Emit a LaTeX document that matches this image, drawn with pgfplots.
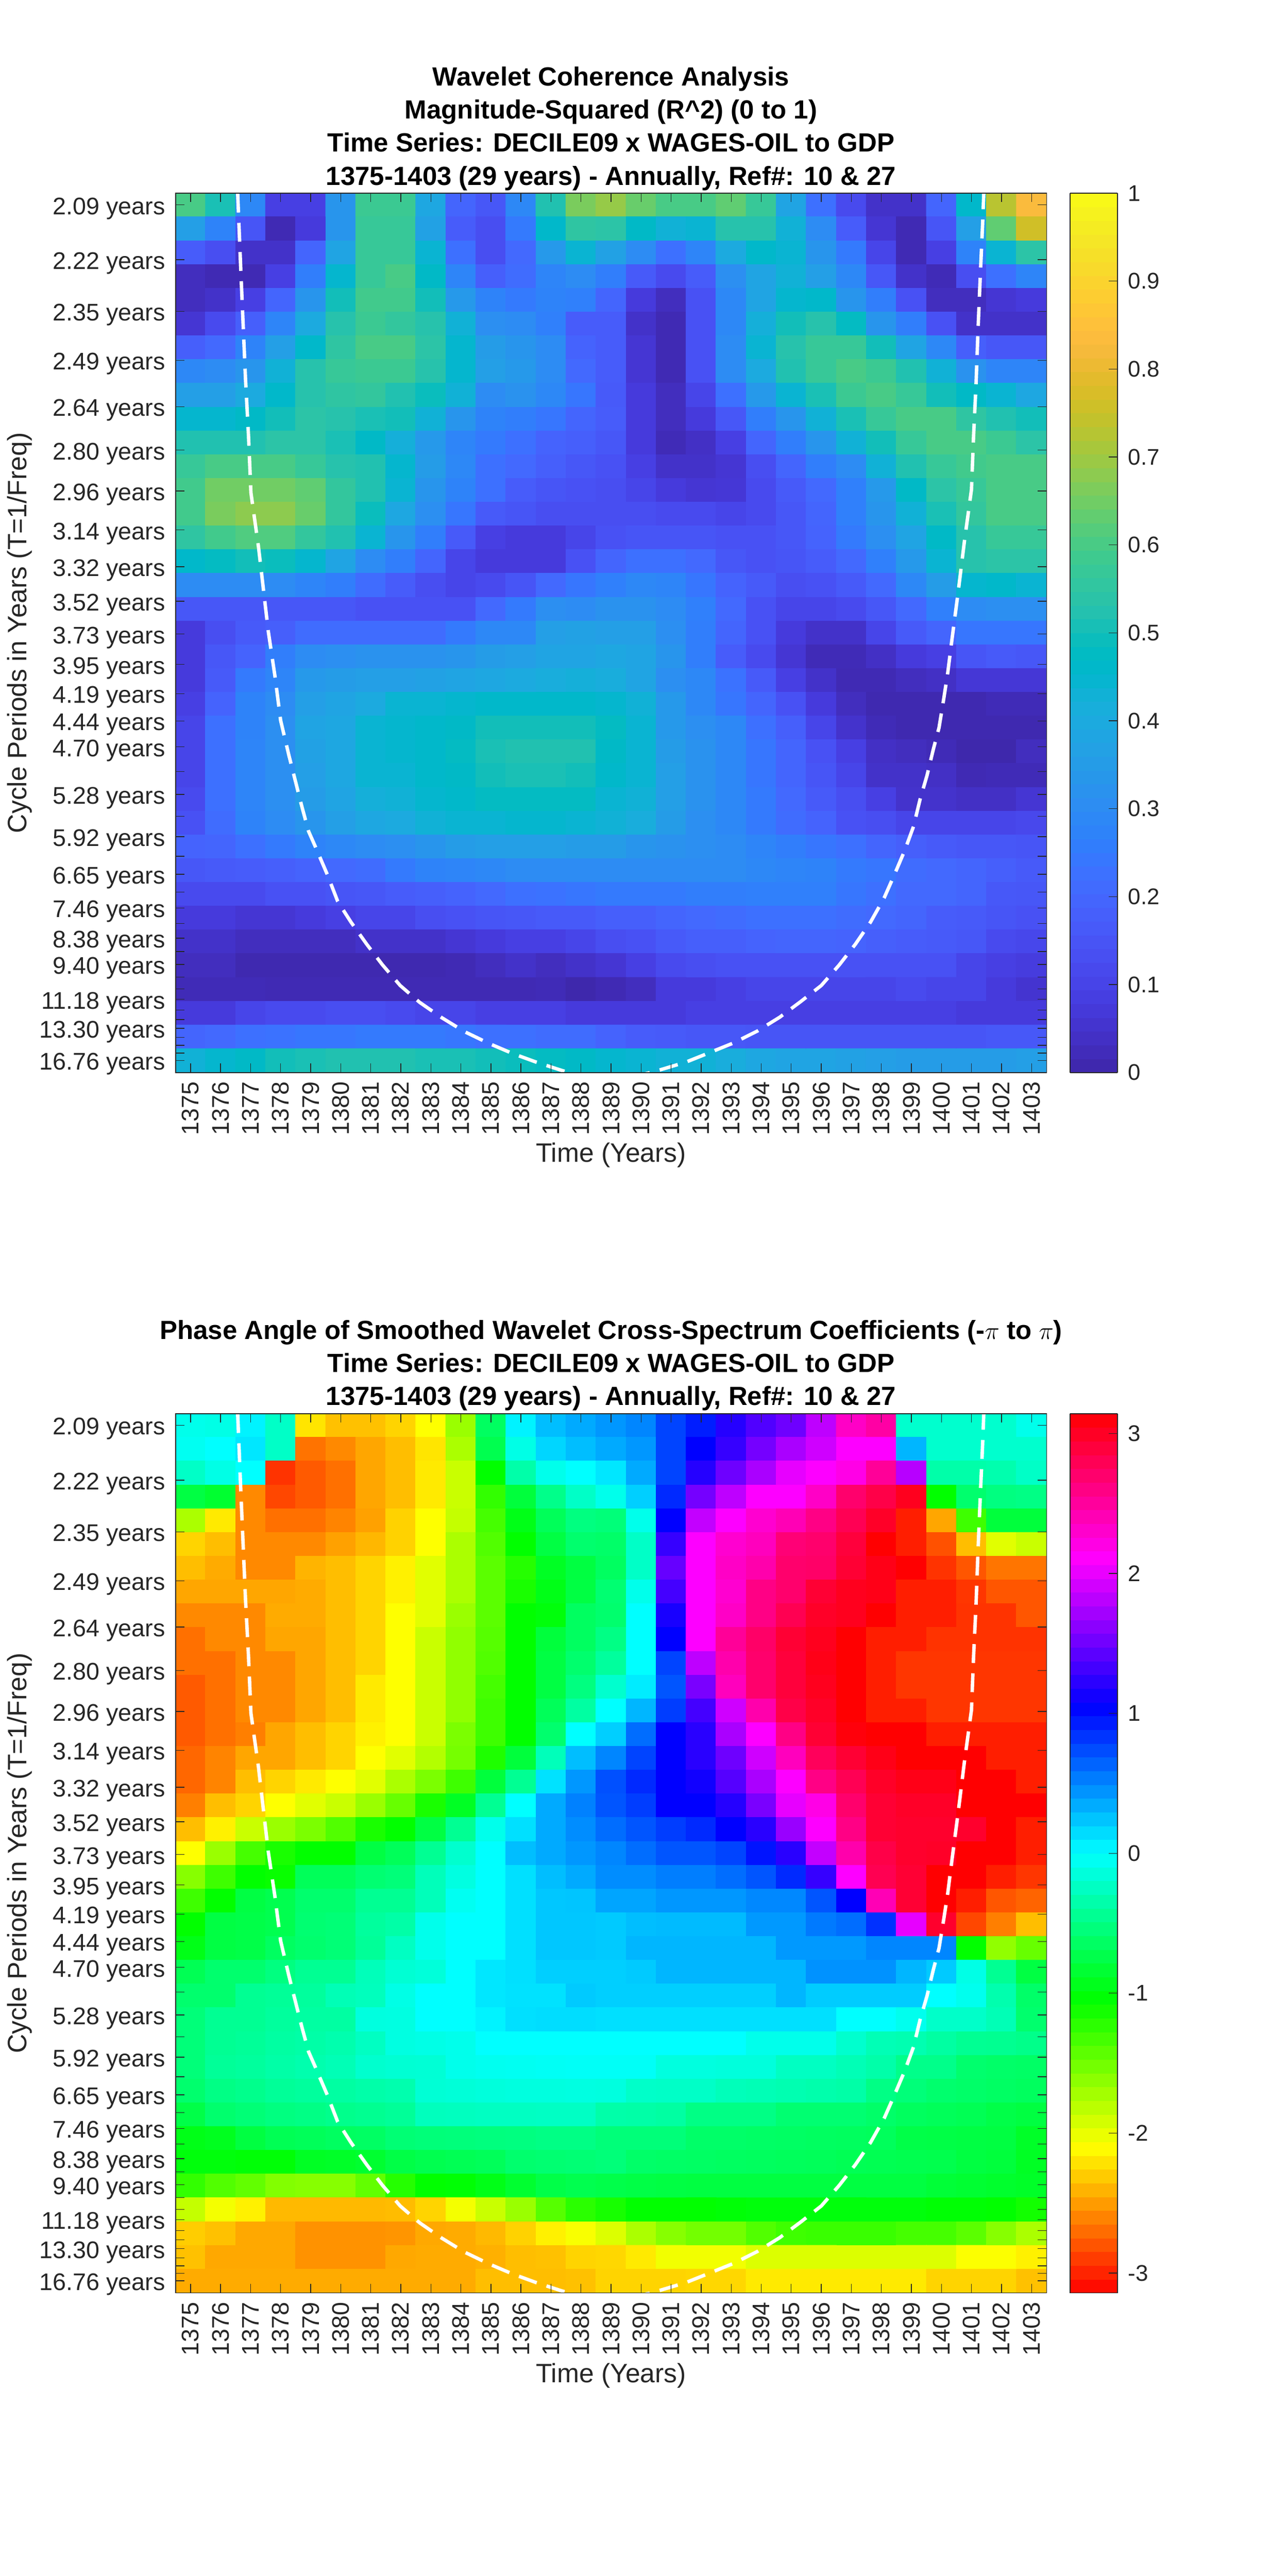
\documentclass[border=0pt]{standalone}
\usepackage{fontspec}
\setmainfont{Liberation Sans}
\usepackage{pgfplots}
\pgfplotsset{compat=1.18}
\definecolor{axc}{gray}{0.15}
\pgfplotsset{
 colormap={parula}{rgb=(.2422,.1504,.6603) rgb=(.2504,.1650,.7076) rgb=(.2578,.1818,.7511) rgb=(.2647,.1978,.7952)
 rgb=(.2706,.2147,.8364) rgb=(.2751,.2342,.8710) rgb=(.2783,.2559,.8991) rgb=(.2803,.2782,.9221)
 rgb=(.2813,.3006,.9414) rgb=(.2810,.3228,.9579) rgb=(.2795,.3447,.9717) rgb=(.2760,.3667,.9829)
 rgb=(.2699,.3892,.9906) rgb=(.2602,.4123,.9952) rgb=(.2440,.4358,.9988) rgb=(.2206,.4603,.9973)
 rgb=(.1963,.4847,.9892) rgb=(.1834,.5074,.9798) rgb=(.1786,.5289,.9682) rgb=(.1764,.5499,.9520)
 rgb=(.1687,.5703,.9359) rgb=(.1540,.5902,.9218) rgb=(.1460,.6091,.9079) rgb=(.1380,.6276,.8973)
 rgb=(.1248,.6459,.8883) rgb=(.1113,.6635,.8763) rgb=(.0952,.6798,.8598) rgb=(.0689,.6948,.8394)
 rgb=(.0297,.7082,.8163) rgb=(.0036,.7203,.7917) rgb=(.0067,.7312,.7660) rgb=(.0433,.7411,.7394)
 rgb=(.0964,.7500,.7120) rgb=(.1408,.7584,.6842) rgb=(.1717,.7670,.6554) rgb=(.1938,.7758,.6251)
 rgb=(.2161,.7843,.5923) rgb=(.2470,.7918,.5567) rgb=(.2906,.7973,.5188) rgb=(.3406,.8008,.4789)
 rgb=(.3909,.8029,.4354) rgb=(.4456,.8024,.3909) rgb=(.5044,.7993,.3480) rgb=(.5616,.7942,.3045)
 rgb=(.6174,.7876,.2612) rgb=(.6720,.7793,.2227) rgb=(.7242,.7698,.1910) rgb=(.7738,.7598,.1646)
 rgb=(.8203,.7498,.1535) rgb=(.8634,.7406,.1596) rgb=(.9035,.7330,.1774) rgb=(.9393,.7288,.2100)
 rgb=(.9728,.7298,.2394) rgb=(.9956,.7434,.2371) rgb=(.9970,.7659,.2199) rgb=(.9952,.7893,.2028)
 rgb=(.9892,.8136,.1885) rgb=(.9786,.8386,.1766) rgb=(.9676,.8639,.1643) rgb=(.9610,.8890,.1537)
 rgb=(.9597,.9135,.1423) rgb=(.9628,.9373,.1265) rgb=(.9691,.9606,.1064) rgb=(.9769,.9839,.0805)},
 colormap={hsvphase}{rgb255=(255,0,0) rgb255=(255,255,0) rgb255=(0,255,0) rgb255=(0,255,255) rgb255=(0,0,255) rgb255=(255,0,255) rgb255=(255,0,0)},
 wc/.style={
  scale only axis,width=507.36pt,height=512.16pt,
  xmin=1374.5,xmax=1403.5,ymin=0,ymax=37,y dir=reverse,
  axis on top,
  xtick={1375,1376,...,1403},
  x tick label style={rotate=90,anchor=east,inner sep=6pt,xshift=0.9pt,font=\fontsize{14pt}{16pt}\selectfont,text=axc,/pgf/number format/1000 sep={},/pgf/number format/assume math mode=true},
  ytick={0.489,2.798,4.974,7.03,8.98,10.81,12.53,14.17,15.72,17.17,18.55,19.83,21.06,22.21,23.30,24.33,25.30,26.22,27.08,27.90,28.66,29.41,30.08,30.73,31.35,31.91,32.45,32.99,33.48,33.92,34.37,34.77,35.14,35.52,35.86,36.18,36.49},
  yticklabels={2.09 years,2.22 years,2.35 years,2.49 years,2.64 years,2.80 years,2.96 years,3.14 years,3.32 years,3.52 years,3.73 years,3.95 years,4.19 years,4.44 years,4.70 years,,5.28 years,,5.92 years,,6.65 years,,7.46 years,,8.38 years,,9.40 years,,,11.18 years,,,13.30 years,,,,16.76 years},
  y tick label style={inner sep=5.8pt,yshift=-2.1pt,font=\fontsize{14pt}{16pt}\selectfont,text=axc},
  tick align=inside,tick pos=both,major tick length=5.2pt,
  tick style={color=axc,line width=0.4pt},
  axis line style={color=axc,line width=0.5pt},
  xlabel={Time (Years)},ylabel={Cycle Periods in Years (T=1/Freq)},
  xlabel style={at={(axis description cs:0.5,-0.0942)},anchor=center,font=\fontsize{15.5pt}{18pt}\selectfont,text=axc},
  ylabel style={at={(axis description cs:-0.1788,0.5)},anchor=center,rotate=0,font=\fontsize{15.5pt}{18pt}\selectfont,text=axc},
  every axis title shift=1.4pt,
  title style={inner sep=0pt,align=center,font=\fontsize{15.3pt}{19.3pt}\selectfont\bfseries},
  colorbar sampled,
  colorbar style={samples=65,scale only axis,width=27.6pt,height=512.16pt,at={(1.02696,1)},anchor=north west,
    tick align=inside,ytick pos=right,major tick length=5pt,
    y tick label style={inner sep=6pt,font=\fontsize{13.2pt}{15pt}\selectfont,text=axc,/pgf/number format/assume math mode=true},
    tick style={color=axc,line width=0.4pt},axis line style={color=axc,line width=0.5pt}},
 },
 cell/.style={matrix plot*,mesh/cols=29,point meta=explicit},
 table/cellsrc/.style={row sep=\\,header=false,x expr={1375+mod(\coordindex,29)},y expr={floor((\coordindex+0.5)/29)+0.5},meta index=0},
 coi/.style={white,line width=2pt,dash pattern=on 11pt off 6pt,no markers},
}
\newcommand{\coidata}{(1376.57,0.02)(1376.68,3.45)(1376.83,7.82)(1376.93,10.21)(1377.01,12.60)(1377.26,14.86)(1377.59,18.45)(1377.81,20.32)(1378.00,22.19)(1378.27,23.63)(1378.70,25.78)(1378.93,26.85)(1379.16,27.51)(1379.55,28.66)(1379.90,29.80)(1380.34,30.67)(1380.87,31.61)(1381.39,32.47)(1381.98,33.34)(1382.63,34.05)(1383.36,34.69)(1384.12,35.28)(1384.94,35.78)(1385.72,36.20)(1386.50,36.56)(1387.30,36.89)(1387.59,37.00)(1389.00,37.40)(1390.45,36.96)(1391.50,36.56)(1392.29,36.16)(1393.09,35.75)(1393.88,35.25)(1394.62,34.67)(1395.31,34.02)(1396.00,33.34)(1396.60,32.47)(1397.13,31.61)(1397.64,30.67)(1398.09,29.66)(1398.44,28.66)(1398.78,27.65)(1399.07,26.65)(1399.29,25.50)(1399.52,24.50)(1399.73,23.40)(1399.92,22.49)(1400.08,21.25)(1400.21,20.18)(1400.34,18.88)(1400.55,16.85)(1400.77,14.60)(1401.00,12.47)(1401.07,10.21)(1401.15,8.10)(1401.22,5.70)(1401.29,3.57)(1401.37,1.32)(1401.41,0.00)}
\begin{document}
\begin{tikzpicture}
\useasboundingbox (0,0) rectangle (750pt,1500.48pt);
\begin{axis}[wc,at={(102.24pt,875.76pt)},anchor=south west,
  colormap name=parula,point meta min=0,point meta max=1,
  colorbar style={ytick={0,0.1,...,1},yticklabels={0,0.1,0.2,0.3,0.4,0.5,0.6,0.7,0.8,0.9,1}},
  title={Wavelet Coherence Analysis\\Magnitude-Squared (R\^{}2) (0 to 1)\\Time Series: DECILE09 x WAGES-OIL to GDP\\1375-1403 (29 years) - Annually, Ref\#: 10 \& 27}]
\addplot[cell] table[cellsrc]{
0.60\\0.51\\0.29\\0.09\\0.09\\0.33\\0.58\\0.58\\0.39\\0.195\\0.155\\0.29\\0.52\\0.66\\0.69\\0.64\\0.60\\0.60\\0.63\\0.57\\0.38\\0.225\\0.12\\0.045\\0.045\\0.195\\0.46\\0.73\\0.83\\
0.36\\0.275\\0.15\\0.015\\0.075\\0.33\\0.57\\0.57\\0.37\\0.17\\0.13\\0.25\\0.46\\0.55\\0.54\\0.47\\0.43\\0.44\\0.53\\0.53\\0.43\\0.30\\0.17\\0.06\\0.015\\0.15\\0.36\\0.63\\0.76\\
0.17\\0.13\\0.045\\0.045\\0.195\\0.38\\0.57\\0.57\\0.44\\0.225\\0.13\\0.205\\0.34\\0.44\\0.37\\0.30\\0.225\\0.28\\0.40\\0.46\\0.44\\0.33\\0.25\\0.105\\0.015\\0.09\\0.275\\0.44\\0.54\\
0.03\\0.015\\0.015\\0.09\\0.26\\0.45\\0.57\\0.60\\0.47\\0.28\\0.18\\0.215\\0.28\\0.30\\0.26\\0.165\\0.12\\0.17\\0.31\\0.38\\0.43\\0.36\\0.29\\0.155\\0.045\\0.02\\0.13\\0.225\\0.28\\
0.03\\0.045\\0.09\\0.195\\0.33\\0.50\\0.59\\0.59\\0.50\\0.34\\0.275\\0.25\\0.275\\0.265\\0.195\\0.075\\0.03\\0.14\\0.29\\0.38\\0.45\\0.46\\0.33\\0.26\\0.14\\0.03\\0.03\\0.06\\0.075\\
0.06\\0.12\\0.18\\0.28\\0.40\\0.53\\0.58\\0.56\\0.53\\0.43\\0.31\\0.30\\0.265\\0.17\\0.17\\0.045\\0.015\\0.14\\0.29\\0.42\\0.50\\0.53\\0.48\\0.33\\0.26\\0.14\\0.045\\0.045\\0.045\\
0.18\\0.205\\0.275\\0.36\\0.46\\0.55\\0.60\\0.60\\0.54\\0.45\\0.35\\0.33\\0.30\\0.19\\0.17\\0.06\\0.015\\0.14\\0.30\\0.44\\0.53\\0.57\\0.57\\0.50\\0.38\\0.29\\0.18\\0.155\\0.155\\
0.29\\0.30\\0.33\\0.43\\0.53\\0.57\\0.58\\0.58\\0.53\\0.45\\0.36\\0.34\\0.30\\0.205\\0.17\\0.06\\0.015\\0.14\\0.30\\0.40\\0.52\\0.57\\0.60\\0.58\\0.52\\0.43\\0.32\\0.28\\0.28\\
0.36\\0.36\\0.40\\0.46\\0.53\\0.55\\0.56\\0.52\\0.49\\0.43\\0.30\\0.32\\0.29\\0.24\\0.165\\0.075\\0.03\\0.105\\0.225\\0.34\\0.44\\0.51\\0.58\\0.60\\0.57\\0.50\\0.47\\0.44\\0.39\\
0.45\\0.45\\0.47\\0.50\\0.54\\0.53\\0.51\\0.50\\0.43\\0.33\\0.275\\0.26\\0.24\\0.195\\0.17\\0.075\\0.03\\0.075\\0.155\\0.26\\0.33\\0.43\\0.51\\0.57\\0.60\\0.60\\0.55\\0.52\\0.50\\
0.52\\0.52\\0.52\\0.54\\0.54\\0.51\\0.47\\0.42\\0.34\\0.28\\0.25\\0.225\\0.19\\0.18\\0.155\\0.075\\0.02\\0.04\\0.09\\0.195\\0.26\\0.33\\0.43\\0.50\\0.57\\0.60\\0.60\\0.58\\0.54\\
0.57\\0.60\\0.60\\0.60\\0.57\\0.53\\0.52\\0.45\\0.35\\0.29\\0.225\\0.205\\0.18\\0.155\\0.14\\0.09\\0.045\\0.045\\0.06\\0.13\\0.195\\0.26\\0.30\\0.43\\0.52\\0.57\\0.59\\0.60\\0.60\\
0.59\\0.65\\0.65\\0.65\\0.63\\0.56\\0.52\\0.44\\0.33\\0.275\\0.225\\0.17\\0.15\\0.14\\0.13\\0.105\\0.075\\0.06\\0.065\\0.12\\0.165\\0.205\\0.265\\0.34\\0.47\\0.54\\0.57\\0.60\\0.60\\
0.59\\0.66\\0.68\\0.68\\0.64\\0.56\\0.49\\0.39\\0.31\\0.24\\0.165\\0.15\\0.13\\0.13\\0.13\\0.13\\0.12\\0.12\\0.105\\0.12\\0.155\\0.195\\0.265\\0.33\\0.43\\0.51\\0.56\\0.60\\0.60\\
0.55\\0.59\\0.61\\0.61\\0.56\\0.52\\0.44\\0.33\\0.26\\0.165\\0.09\\0.075\\0.075\\0.105\\0.14\\0.15\\0.15\\0.15\\0.14\\0.14\\0.155\\0.19\\0.25\\0.31\\0.38\\0.47\\0.53\\0.57\\0.57\\
0.46\\0.48\\0.50\\0.49\\0.45\\0.38\\0.30\\0.26\\0.195\\0.105\\0.075\\0.075\\0.075\\0.14\\0.195\\0.225\\0.225\\0.205\\0.155\\0.14\\0.15\\0.17\\0.205\\0.265\\0.34\\0.44\\0.53\\0.54\\0.54\\
0.30\\0.30\\0.30\\0.30\\0.28\\0.26\\0.215\\0.17\\0.13\\0.105\\0.12\\0.15\\0.205\\0.24\\0.265\\0.29\\0.28\\0.24\\0.19\\0.165\\0.13\\0.14\\0.165\\0.205\\0.29\\0.35\\0.45\\0.46\\0.44\\
0.155\\0.155\\0.155\\0.155\\0.155\\0.155\\0.14\\0.14\\0.14\\0.14\\0.205\\0.25\\0.31\\0.30\\0.32\\0.32\\0.30\\0.265\\0.205\\0.14\\0.105\\0.105\\0.12\\0.155\\0.205\\0.265\\0.30\\0.31\\0.31\\
0.075\\0.13\\0.165\\0.18\\0.215\\0.215\\0.215\\0.215\\0.215\\0.25\\0.29\\0.29\\0.36\\0.37\\0.36\\0.36\\0.31\\0.26\\0.195\\0.14\\0.075\\0.045\\0.045\\0.105\\0.165\\0.195\\0.24\\0.24\\0.24\\
0.075\\0.155\\0.19\\0.26\\0.30\\0.31\\0.32\\0.32\\0.32\\0.33\\0.35\\0.36\\0.38\\0.38\\0.39\\0.38\\0.33\\0.26\\0.17\\0.12\\0.06\\0.02\\0.02\\0.04\\0.075\\0.09\\0.15\\0.165\\0.155\\
0.075\\0.165\\0.25\\0.28\\0.34\\0.35\\0.36\\0.36\\0.37\\0.38\\0.39\\0.40\\0.41\\0.42\\0.41\\0.38\\0.31\\0.29\\0.23\\0.165\\0.09\\0.045\\0.015\\0.015\\0.03\\0.04\\0.065\\0.065\\0.065\\
0.09\\0.19\\0.275\\0.30\\0.36\\0.38\\0.40\\0.44\\0.44\\0.45\\0.46\\0.46\\0.46\\0.46\\0.45\\0.43\\0.34\\0.29\\0.24\\0.195\\0.14\\0.075\\0.03\\0.01\\0.01\\0.01\\0.01\\0.02\\0.02\\
0.105\\0.225\\0.275\\0.31\\0.38\\0.39\\0.44\\0.45\\0.46\\0.47\\0.50\\0.50\\0.50\\0.50\\0.48\\0.44\\0.34\\0.31\\0.29\\0.225\\0.18\\0.105\\0.05\\0.02\\0.01\\0.01\\0.01\\0.01\\0.01\\
0.105\\0.225\\0.28\\0.31\\0.37\\0.39\\0.44\\0.45\\0.46\\0.48\\0.51\\0.52\\0.52\\0.52\\0.47\\0.44\\0.35\\0.32\\0.29\\0.24\\0.195\\0.14\\0.09\\0.04\\0.03\\0.02\\0.005\\0.005\\0.03\\
0.105\\0.225\\0.28\\0.31\\0.36\\0.39\\0.44\\0.44\\0.46\\0.47\\0.50\\0.51\\0.51\\0.50\\0.46\\0.44\\0.36\\0.32\\0.29\\0.24\\0.195\\0.15\\0.105\\0.045\\0.045\\0.04\\0.015\\0.02\\0.02\\
0.12\\0.225\\0.28\\0.31\\0.35\\0.38\\0.42\\0.43\\0.45\\0.46\\0.48\\0.48\\0.48\\0.48\\0.44\\0.43\\0.36\\0.32\\0.29\\0.25\\0.205\\0.165\\0.13\\0.09\\0.05\\0.05\\0.04\\0.04\\0.06\\
0.14\\0.215\\0.275\\0.30\\0.33\\0.36\\0.39\\0.40\\0.43\\0.44\\0.44\\0.45\\0.45\\0.44\\0.43\\0.41\\0.35\\0.31\\0.29\\0.25\\0.215\\0.19\\0.14\\0.13\\0.105\\0.105\\0.105\\0.105\\0.115\\
0.19\\0.195\\0.225\\0.25\\0.275\\0.29\\0.30\\0.31\\0.33\\0.35\\0.36\\0.36\\0.36\\0.35\\0.35\\0.33\\0.32\\0.31\\0.30\\0.28\\0.26\\0.24\\0.225\\0.195\\0.18\\0.165\\0.155\\0.155\\0.15\\
0.155\\0.165\\0.17\\0.18\\0.19\\0.205\\0.215\\0.25\\0.275\\0.28\\0.29\\0.30\\0.30\\0.30\\0.30\\0.30\\0.30\\0.30\\0.30\\0.29\\0.28\\0.275\\0.25\\0.24\\0.215\\0.205\\0.195\\0.18\\0.165\\
0.12\\0.12\\0.12\\0.14\\0.14\\0.15\\0.155\\0.17\\0.18\\0.19\\0.205\\0.225\\0.23\\0.24\\0.25\\0.25\\0.25\\0.26\\0.26\\0.265\\0.265\\0.265\\0.24\\0.225\\0.205\\0.205\\0.195\\0.16\\0.155\\
0.075\\0.075\\0.06\\0.06\\0.075\\0.09\\0.105\\0.105\\0.13\\0.14\\0.15\\0.155\\0.165\\0.165\\0.18\\0.18\\0.195\\0.205\\0.215\\0.225\\0.225\\0.225\\0.215\\0.205\\0.195\\0.17\\0.165\\0.15\\0.14\\
0.045\\0.045\\0.03\\0.03\\0.03\\0.03\\0.045\\0.045\\0.045\\0.06\\0.075\\0.09\\0.09\\0.105\\0.13\\0.14\\0.165\\0.18\\0.18\\0.19\\0.195\\0.195\\0.19\\0.18\\0.17\\0.165\\0.155\\0.12\\0.11\\
0.03\\0.03\\0.01\\0.01\\0.01\\0.01\\0.01\\0.01\\0.01\\0.015\\0.03\\0.045\\0.03\\0.045\\0.06\\0.09\\0.12\\0.13\\0.14\\0.14\\0.14\\0.14\\0.14\\0.14\\0.14\\0.14\\0.105\\0.09\\0.08\\
0.02\\0.02\\0.02\\0.015\\0.015\\0.015\\0.015\\0.015\\0.015\\0.015\\0.015\\0.015\\0.02\\0.005\\0.015\\0.03\\0.075\\0.075\\0.09\\0.105\\0.105\\0.105\\0.105\\0.105\\0.12\\0.105\\0.105\\0.075\\0.055\\
0.075\\0.075\\0.105\\0.12\\0.12\\0.13\\0.13\\0.12\\0.105\\0.105\\0.09\\0.09\\0.09\\0.075\\0.075\\0.075\\0.075\\0.09\\0.09\\0.09\\0.09\\0.09\\0.09\\0.09\\0.09\\0.09\\0.075\\0.075\\0.075\\
0.195\\0.205\\0.225\\0.23\\0.24\\0.24\\0.25\\0.25\\0.25\\0.24\\0.225\\0.225\\0.215\\0.215\\0.19\\0.17\\0.165\\0.155\\0.155\\0.15\\0.15\\0.15\\0.15\\0.15\\0.15\\0.15\\0.15\\0.16\\0.16\\
0.43\\0.45\\0.47\\0.50\\0.51\\0.52\\0.52\\0.52\\0.51\\0.51\\0.50\\0.49\\0.48\\0.47\\0.45\\0.44\\0.43\\0.43\\0.41\\0.39\\0.38\\0.38\\0.37\\0.36\\0.35\\0.35\\0.35\\0.35\\0.36\\
};
\addplot[coi] coordinates {\coidata};
\end{axis}
\begin{axis}[wc,at={(102.24pt,164.88pt)},anchor=south west,
  colormap name=hsvphase,point meta min=-3.14159,point meta max=3.14159,
  colorbar style={ytick={-3,-2,-1,0,1,2,3}},
  title={Phase Angle of Smoothed Wavelet Cross-Spectrum Coefficients (-$\pi$ to $\pi$)\\Time Series: DECILE09 x WAGES-OIL to GDP\\1375-1403 (29 years) - Annually, Ref\#: 10 \& 27}]
\addplot[cell] table[cellsrc]{
-0.08\\-0.10\\0.05\\-0.23\\-2.20\\-2.35\\-2.35\\-2.27\\-2.09\\-1.68\\-0.65\\0.05\\0.27\\0.35\\0.43\\0.50\\0.77\\0.93\\1.20\\1.38\\1.50\\1.83\\2.33\\2.47\\-0.20\\-0.20\\-0.20\\-0.20\\-0.08\\
-0.05\\0.00\\0.10\\-0.23\\-2.67\\-2.58\\-2.46\\-2.36\\-2.20\\-1.75\\-0.72\\-0.10\\0.17\\0.27\\0.35\\0.43\\0.77\\1.05\\1.27\\1.53\\1.75\\1.90\\2.09\\2.09\\0.30\\-0.20\\-0.20\\-0.20\\-0.20\\
-0.23\\-0.10\\0.00\\-2.93\\-2.77\\-2.68\\-2.46\\-2.36\\-2.18\\-1.87\\-1.05\\-0.35\\-0.08\\0.00\\0.10\\0.35\\0.77\\1.20\\1.50\\1.75\\2.00\\2.09\\2.20\\2.52\\1.80\\-0.35\\-0.35\\-0.33\\-0.23\\
-0.77\\-0.85\\-2.58\\-2.85\\-2.77\\-2.68\\-2.46\\-2.36\\-2.18\\-1.87\\-1.25\\-0.80\\-0.48\\-0.23\\-0.08\\0.20\\0.88\\1.53\\1.83\\2.09\\2.09\\2.33\\2.70\\2.85\\3.02\\-1.05\\-0.60\\-0.52\\-0.50\\
-1.75\\-2.18\\-2.58\\-2.68\\-2.68\\-2.60\\-2.48\\-2.28\\-2.09\\-1.85\\-1.33\\-0.95\\-0.68\\-0.52\\-0.55\\-0.08\\1.05\\1.85\\2.09\\2.29\\2.40\\2.60\\2.80\\2.98\\-3.02\\-2.46\\-1.30\\-0.80\\-0.80\\
-2.27\\-2.36\\-2.58\\-2.58\\-2.58\\-2.48\\-2.39\\-2.28\\-2.09\\-1.75\\-1.38\\-1.05\\-0.77\\-0.60\\-0.62\\-0.23\\1.27\\2.09\\2.29\\2.37\\2.66\\2.70\\2.90\\3.14\\-3.02\\-2.81\\-2.36\\-1.97\\-1.87\\
-2.36\\-2.44\\-2.58\\-2.58\\-2.40\\-2.36\\-2.27\\-2.15\\-1.97\\-1.75\\-1.42\\-1.20\\-0.90\\-0.78\\-0.65\\-0.23\\1.47\\2.09\\2.33\\2.44\\2.70\\2.72\\2.93\\3.05\\3.14\\-2.93\\-2.79\\-2.66\\-2.66\\
-2.46\\-2.46\\-2.46\\-2.46\\-2.44\\-2.36\\-2.27\\-2.15\\-1.97\\-1.75\\-1.42\\-1.15\\-0.95\\-0.77\\-0.58\\-0.08\\1.33\\2.09\\2.29\\2.60\\2.70\\2.93\\3.02\\3.05\\-3.02\\-3.02\\-2.92\\-2.79\\-2.79\\
-2.58\\-2.58\\-2.58\\-2.44\\-2.44\\-2.36\\-2.27\\-2.09\\-1.97\\-1.68\\-1.42\\-1.05\\-1.00\\-0.65\\-0.60\\0.00\\1.15\\2.09\\2.33\\2.60\\2.81\\2.98\\3.02\\3.14\\-3.02\\-3.02\\-2.93\\-2.93\\-2.79\\
-2.68\\-2.58\\-2.58\\-2.46\\-2.46\\-2.36\\-2.27\\-2.09\\-1.87\\-1.64\\-1.40\\-1.05\\-0.80\\-0.65\\-0.50\\0.00\\1.05\\2.09\\2.52\\2.72\\2.93\\3.02\\3.14\\-3.02\\-3.02\\-2.93\\-2.93\\-2.93\\-2.93\\
-2.68\\-2.68\\-2.58\\-2.58\\-2.46\\-2.36\\-2.27\\-2.09\\-1.87\\-1.64\\-1.38\\-1.05\\-0.77\\-0.60\\-0.40\\0.00\\0.77\\1.83\\2.44\\2.70\\2.90\\3.05\\3.14\\-3.02\\-2.92\\-2.92\\-2.92\\-2.92\\-2.92\\
-2.77\\-2.68\\-2.58\\-2.58\\-2.46\\-2.36\\-2.18\\-2.09\\-1.87\\-1.64\\-1.33\\-1.05\\-0.77\\-0.52\\-0.20\\0.08\\0.70\\1.55\\2.37\\2.70\\2.90\\3.02\\3.14\\-3.02\\-2.92\\-2.92\\-2.92\\-2.92\\-2.92\\
-2.77\\-2.68\\-2.58\\-2.58\\-2.46\\-2.36\\-2.18\\-2.09\\-1.87\\-1.64\\-1.30\\-1.05\\-0.68\\-0.38\\0.00\\0.30\\0.80\\1.33\\1.90\\2.44\\2.85\\2.98\\3.14\\-3.02\\-3.02\\-2.92\\-2.92\\-2.92\\-2.92\\
-2.77\\-2.68\\-2.62\\-2.46\\-2.36\\-2.27\\-2.15\\-2.09\\-1.87\\-1.55\\-1.30\\-1.05\\-0.60\\0.00\\0.20\\0.60\\1.05\\1.22\\1.75\\2.09\\2.60\\2.93\\3.10\\3.14\\3.14\\-3.02\\-3.02\\-3.02\\-3.02\\
-2.72\\-2.60\\-2.46\\-2.46\\-2.36\\-2.27\\-2.09\\-1.97\\-1.78\\-1.53\\-1.17\\-0.80\\-0.28\\0.27\\0.50\\0.77\\1.05\\1.22\\1.50\\1.90\\2.37\\2.77\\2.93\\3.05\\3.14\\3.14\\3.14\\-3.02\\-3.02\\
-2.72\\-2.60\\-2.36\\-2.27\\-2.18\\-2.09\\-1.97\\-1.75\\-1.55\\-1.30\\-0.80\\-0.44\\0.12\\0.43\\0.72\\0.88\\1.05\\1.12\\1.40\\1.75\\2.09\\2.60\\2.80\\2.98\\3.05\\3.05\\3.14\\3.14\\-3.02\\
-2.62\\-2.36\\-2.27\\-2.09\\-1.97\\-1.87\\-1.68\\-1.47\\-1.15\\-0.90\\-0.44\\0.00\\0.35\\0.52\\0.70\\0.80\\1.05\\1.05\\1.20\\1.55\\2.00\\2.20\\2.70\\2.93\\2.98\\2.98\\3.14\\3.14\\3.14\\
-2.36\\-2.15\\-1.87\\-1.68\\-1.55\\-1.38\\-1.15\\-1.05\\-0.77\\-0.44\\-0.08\\0.13\\0.35\\0.47\\0.60\\0.70\\0.80\\0.88\\1.05\\1.22\\1.68\\2.09\\2.60\\2.93\\2.96\\2.96\\2.96\\3.14\\-3.02\\
-2.09\\-1.68\\-1.33\\-1.15\\-1.05\\-1.05\\-0.77\\-0.68\\-0.44\\-0.20\\0.00\\0.27\\0.35\\0.43\\0.50\\0.60\\0.70\\0.70\\0.77\\0.97\\1.22\\1.85\\2.44\\2.85\\2.96\\2.98\\3.14\\3.14\\-3.02\\
-1.60\\-1.30\\-1.05\\-1.08\\-0.68\\-0.68\\-0.58\\-0.55\\-0.28\\-0.12\\0.00\\0.13\\0.27\\0.35\\0.47\\0.47\\0.53\\0.53\\0.60\\0.70\\0.88\\1.27\\2.09\\2.81\\2.93\\3.14\\3.14\\-3.02\\-2.92\\
-1.30\\-1.05\\-0.77\\-0.72\\-0.60\\-0.60\\-0.44\\-0.44\\-0.28\\-0.05\\0.00\\0.13\\0.23\\0.24\\0.37\\0.37\\0.43\\0.43\\0.43\\0.49\\0.49\\0.70\\1.05\\2.40\\2.93\\3.14\\-3.02\\-2.79\\-2.73\\
-1.05\\-0.77\\-0.75\\-0.72\\-0.58\\-0.56\\-0.40\\-0.36\\-0.08\\0.00\\0.00\\0.13\\0.23\\0.23\\0.22\\0.27\\0.28\\0.28\\0.28\\0.42\\0.42\\0.55\\0.60\\0.85\\2.00\\2.96\\-2.85\\-2.62\\-2.36\\
-0.95\\-0.77\\-0.75\\-0.65\\-0.60\\-0.56\\-0.42\\-0.25\\-0.08\\0.00\\0.00\\0.13\\0.23\\0.23\\0.22\\0.30\\0.30\\0.30\\0.30\\0.30\\0.42\\0.42\\0.42\\0.50\\0.50\\0.50\\-1.05\\-1.64\\-1.47\\
-0.70\\-0.60\\-0.60\\-0.52\\-0.44\\-0.44\\-0.28\\-0.18\\-0.15\\0.00\\0.10\\0.13\\0.20\\0.20\\0.20\\0.22\\0.30\\0.30\\0.30\\0.30\\0.30\\0.45\\0.45\\0.45\\0.30\\0.22\\-0.10\\-0.44\\-0.77\\
-0.60\\-0.60\\-0.44\\-0.42\\-0.40\\-0.30\\-0.27\\-0.10\\0.00\\0.00\\0.10\\0.12\\0.12\\0.22\\0.20\\0.20\\0.20\\0.20\\0.20\\0.20\\0.30\\0.21\\0.21\\0.21\\0.21\\0.00\\-0.07\\-0.33\\-0.62\\
-0.55\\-0.44\\-0.44\\-0.40\\-0.38\\-0.38\\-0.13\\-0.12\\0.00\\0.00\\0.05\\0.13\\0.14\\0.14\\0.13\\0.13\\0.13\\0.13\\0.13\\0.13\\0.13\\0.13\\0.00\\0.00\\-0.07\\-0.22\\-0.22\\-0.30\\-0.60\\
-0.55\\-0.44\\-0.42\\-0.38\\-0.36\\-0.33\\-0.25\\-0.12\\-0.10\\-0.08\\0.00\\0.00\\0.00\\0.00\\0.00\\0.00\\0.00\\0.00\\0.00\\-0.08\\-0.08\\-0.08\\-0.20\\-0.30\\-0.32\\-0.38\\-0.44\\-0.45\\-0.48\\
-0.55\\-0.42\\-0.40\\-0.36\\-0.33\\-0.30\\-0.20\\-0.18\\-0.17\\-0.08\\-0.06\\-0.05\\-0.04\\-0.03\\-0.03\\-0.03\\-0.13\\-0.13\\-0.14\\-0.14\\-0.25\\-0.25\\-0.30\\-0.35\\-0.48\\-0.48\\-0.60\\-0.62\\-0.63\\
-0.60\\-0.50\\-0.47\\-0.42\\-0.40\\-0.38\\-0.35\\-0.33\\-0.17\\-0.16\\-0.14\\-0.13\\-0.13\\-0.12\\-0.13\\-0.22\\-0.23\\-0.23\\-0.28\\-0.30\\-0.32\\-0.34\\-0.36\\-0.50\\-0.55\\-0.60\\-0.62\\-0.64\\-0.66\\
-0.75\\-0.60\\-0.56\\-0.52\\-0.50\\-0.47\\-0.45\\-0.42\\-0.27\\-0.26\\-0.25\\-0.25\\-0.24\\-0.24\\-0.35\\-0.36\\-0.38\\-0.50\\-0.50\\-0.50\\-0.58\\-0.58\\-0.58\\-0.62\\-0.66\\-0.68\\-0.70\\-0.75\\-0.78\\
-0.95\\-0.92\\-0.78\\-0.70\\-0.68\\-0.65\\-0.64\\-0.57\\-0.55\\-0.54\\-0.53\\-0.52\\-0.50\\-0.50\\-0.55\\-0.55\\-0.55\\-0.62\\-0.62\\-0.63\\-0.64\\-0.65\\-0.66\\-0.67\\-0.75\\-0.76\\-0.77\\-0.78\\-0.88\\
-1.00\\-1.00\\-1.02\\-1.02\\-0.90\\-0.88\\-0.85\\-0.76\\-0.72\\-0.70\\-0.68\\-0.60\\-0.58\\-0.57\\-0.55\\-0.62\\-0.63\\-0.64\\-0.65\\-0.66\\-0.67\\-0.68\\-0.70\\-0.71\\-0.72\\-0.73\\-0.78\\-0.80\\-0.90\\
-1.25\\-1.38\\-1.45\\-1.58\\-1.60\\-1.60\\-1.45\\-1.20\\-1.05\\-1.03\\-0.95\\-0.85\\-0.75\\-0.72\\-0.74\\-0.76\\-0.77\\-0.78\\-0.78\\-0.78\\-0.78\\-0.78\\-0.78\\-0.78\\-0.78\\-0.82\\-0.84\\-0.86\\-0.88\\
-1.85\\-2.05\\-2.15\\-2.38\\-2.38\\-2.38\\-2.38\\-2.37\\-2.27\\-2.05\\-1.87\\-1.68\\-1.40\\-1.22\\-1.14\\-1.05\\-1.05\\-1.05\\-1.02\\-1.00\\-1.00\\-1.00\\-1.00\\-1.00\\-1.00\\-1.03\\-1.03\\-1.05\\-1.12\\
-2.30\\-2.35\\-2.45\\-2.45\\-2.54\\-2.54\\-2.54\\-2.53\\-2.45\\-2.44\\-2.38\\-2.28\\-2.15\\-2.07\\-1.95\\-1.75\\-1.60\\-1.52\\-1.52\\-1.38\\-1.30\\-1.28\\-1.28\\-1.28\\-1.33\\-1.33\\-1.42\\-1.60\\-1.75\\
-2.35\\-2.45\\-2.45\\-2.45\\-2.54\\-2.54\\-2.54\\-2.45\\-2.44\\-2.44\\-2.42\\-2.36\\-2.35\\-2.27\\-2.26\\-2.18\\-2.04\\-2.04\\-2.04\\-1.95\\-1.95\\-1.95\\-1.95\\-1.95\\-1.95\\-1.95\\-2.08\\-2.08\\-2.15\\
-2.44\\-2.44\\-2.44\\-2.44\\-2.44\\-2.44\\-2.44\\-2.44\\-2.44\\-2.44\\-2.36\\-2.36\\-2.36\\-2.35\\-2.27\\-2.27\\-2.27\\-2.26\\-2.26\\-2.18\\-2.18\\-2.18\\-2.18\\-2.18\\-2.18\\-2.27\\-2.27\\-2.27\\-2.35\\
};
\addplot[coi] coordinates {\coidata};
\end{axis}
\end{tikzpicture}
\end{document}
